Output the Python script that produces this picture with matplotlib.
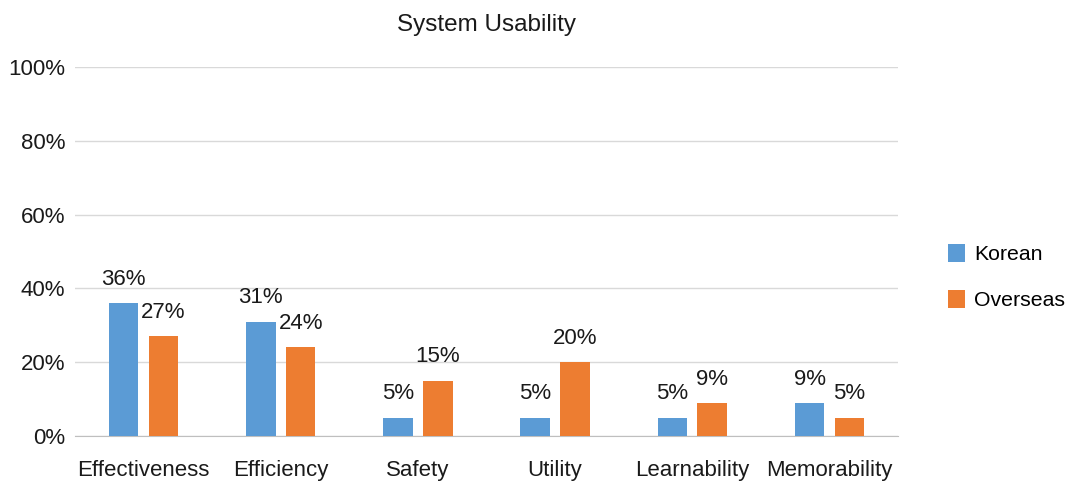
import matplotlib
matplotlib.use("Agg")
import matplotlib.pyplot as plt
import numpy as np

categories = ["Effectiveness", "Efficiency", "Safety", "Utility", "Learnability", "Memorability"]
korean = [36, 31, 5, 5, 5, 9]
overseas = [27, 24, 15, 20, 9, 5]
yticks = [0, 20, 40, 60, 80, 100]

plt.rcParams['font.family'] = ['Liberation Sans', 'DejaVu Sans']
fig = plt.figure(figsize=(10.67, 4.82), dpi=100)
ax = fig.add_axes([75/1067, 1-436/482, 823/1067, 369/482])

x = np.arange(len(categories))
w = 0.215
off = 0.145
b1 = ax.bar(x - off, korean, w, color="#5B9BD5", label="Korean", zorder=3)
b2 = ax.bar(x + off, overseas, w, color="#ED7D31", label="Overseas", zorder=3)
for bars, vals in ((b1, korean), (b2, overseas)):
    for r, v in zip(bars, vals):
        ax.text(r.get_x() + r.get_width()/2, v + 3.6, f"{v}%", ha="center", va="bottom", fontsize=16, color="#1a1a1a")

ax.set_xlim(-0.5, len(categories) - 0.5)
ax.set_ylim(0, 100)
ax.set_yticks(yticks)
ax.set_yticklabels([f"{t}%" for t in yticks], fontsize=16)
ax.set_xticks(x)
ax.set_xticklabels(categories, fontsize=16)
ax.tick_params(axis="x", length=0, pad=17, colors="#1a1a1a")
ax.tick_params(axis="y", length=0, pad=7, colors="#1a1a1a")
ax.grid(axis="y", color="#D9D9D9", linewidth=1, zorder=0)
for s in ["top", "right", "left"]:
    ax.spines[s].set_visible(False)
ax.spines["bottom"].set_color("#BFBFBF")
ax.set_title("System Usability", fontsize=17.5, pad=26, color="#1a1a1a")
fig.legend(handles=[b1, b2], loc="center left", bbox_to_anchor=(948/1067, 1-277/482),
           frameon=False, fontsize=15.3, handlelength=0.78, handleheight=0.95, handletextpad=0.45,
           labelspacing=1.18, borderpad=0, borderaxespad=0)
fig.savefig("out.png", dpi=100)
